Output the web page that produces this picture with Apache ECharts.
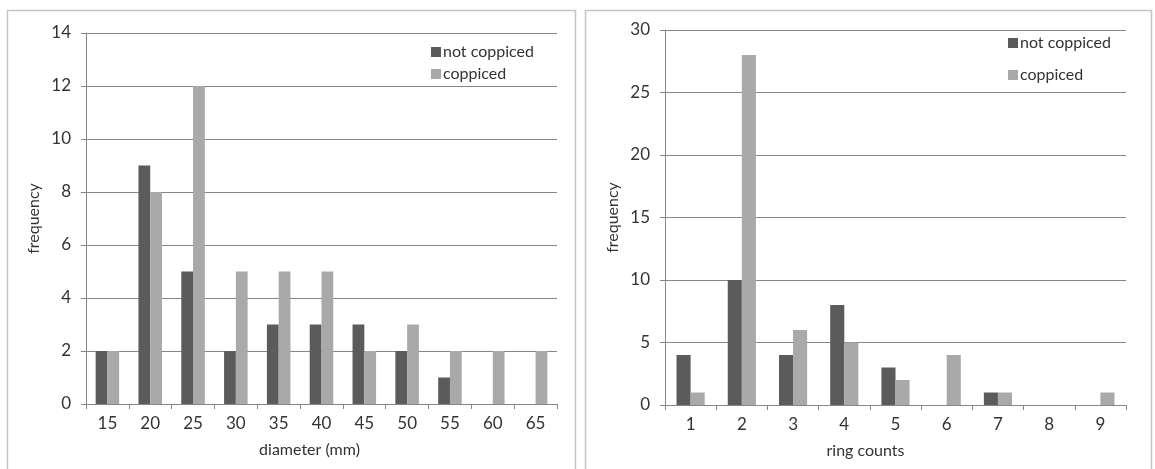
<!DOCTYPE html>
<html>
<head>
<meta charset="utf-8">
<title>Stem diameter and ring counts</title>
<script src="https://cdn.jsdelivr.net/npm/echarts@6/dist/echarts.min.js"></script>
<style>
  html, body { margin: 0; padding: 0; background: #ffffff; }
  #chart { width: 1155px; height: 469px; }
</style>
</head>
<body>
<div id="chart"></div>
<script>
// Diameter classes (mm) and their frequencies
const diameterClasses = ['15', '20', '25', '30', '35', '40', '45', '50', '55', '60', '65'];
const diameterNotCoppiced = [2, 9, 5, 2, 3, 3, 3, 2, 1, 0, 0];
const diameterCoppiced = [2, 8, 12, 5, 5, 5, 2, 3, 2, 2, 2];

// Ring counts and their frequencies
const ringCounts = ['1', '2', '3', '4', '5', '6', '7', '8', '9'];
const ringNotCoppiced = [4, 10, 4, 8, 3, 0, 1, 0, 0];
const ringCoppiced = [1, 28, 6, 5, 2, 4, 1, 0, 1];

const seriesNames = ['not coppiced', 'coppiced'];

const FONT = 'Lato, "Open Sans", sans-serif';
const TEXT = '#333333';
const LINE = '#868686';
const DARK = '#5b5b5b';
const LIGHT = '#a9a9a9';
const FS = 16;
const TICK_FS = 17;

function xAxisFor(gridIndex, cats, title, shift) {
  return {
    type: 'category',
    gridIndex: gridIndex,
    data: cats,
    boundaryGap: true,
    name: title,
    nameLocation: 'middle',
    nameGap: 38,
    nameTextStyle: { color: TEXT, fontFamily: FONT, fontSize: FS, padding: [0, shift * 2, 0, 0] },
    axisLine: { show: true, lineStyle: { color: LINE, width: 1 } },
    axisTick: { show: true, length: 5, alignWithLabel: false, lineStyle: { color: LINE } },
    axisLabel: { color: TEXT, fontFamily: FONT, fontSize: TICK_FS, margin: 11 },
    splitLine: { show: false }
  };
}

function yAxisFor(gridIndex, max, step) {
  return {
    type: 'value',
    gridIndex: gridIndex,
    min: 0,
    max: max,
    interval: step,
    name: 'frequency',
    nameLocation: 'middle',
    nameGap: 44,
    nameTextStyle: { color: TEXT, fontFamily: FONT, fontSize: FS },
    axisLine: { show: true, lineStyle: { color: LINE, width: 1 } },
    axisTick: { show: true, length: 5, lineStyle: { color: LINE } },
    axisLabel: { color: TEXT, fontFamily: FONT, fontSize: TICK_FS, margin: 15 },
    splitLine: { show: true, lineStyle: { color: LINE, width: 1 } }
  };
}

function barSeries(name, color, axisIndex, values) {
  return {
    type: 'bar',
    name: name,
    xAxisIndex: axisIndex,
    yAxisIndex: axisIndex,
    data: values,
    barGap: '0%',
    barCategoryGap: '45%',
    itemStyle: { color: color },
    emphasis: { disabled: true }
  };
}

function legendAt(left, top, gap) {
  return {
    orient: 'vertical',
    left: left,
    top: top,
    itemWidth: 10,
    itemHeight: 10,
    itemGap: gap,
    icon: 'rect',
    data: seriesNames,
    textStyle: { color: TEXT, fontFamily: FONT, fontSize: FS, padding: [0, 0, 0, -3] }
  };
}

const chart = echarts.init(document.getElementById('chart'), null, { renderer: 'canvas' });

chart.setOption({
  backgroundColor: '#ffffff',
  animation: false,
  graphic: [
    { type: 'rect', shape: { x: 7.5, y: 10.5, width: 568, height: 520 }, style: { fill: null, stroke: '#c4c4c4', lineWidth: 1.5 }, silent: true, z: -1 },
    { type: 'rect', shape: { x: 585.5, y: 10.5, width: 566, height: 520 }, style: { fill: null, stroke: '#c4c4c4', lineWidth: 1.5 }, silent: true, z: -1 }
  ],
  legend: [legendAt(426, 39, 6), legendAt(1003, 30, 16)],
  grid: [
    { left: 86, top: 33, width: 471, height: 371 },
    { left: 665, top: 30, width: 461, height: 375 }
  ],
  xAxis: [
    xAxisFor(0, diameterClasses, 'diameter (mm)', 12),
    xAxisFor(1, ringCounts, 'ring counts', 30)
  ],
  yAxis: [
    yAxisFor(0, 14, 2),
    yAxisFor(1, 30, 5)
  ],
  series: [
    barSeries(seriesNames[0], DARK, 0, diameterNotCoppiced),
    barSeries(seriesNames[1], LIGHT, 0, diameterCoppiced),
    barSeries(seriesNames[0], DARK, 1, ringNotCoppiced),
    barSeries(seriesNames[1], LIGHT, 1, ringCoppiced)
  ]
});
</script>
</body>
</html>
